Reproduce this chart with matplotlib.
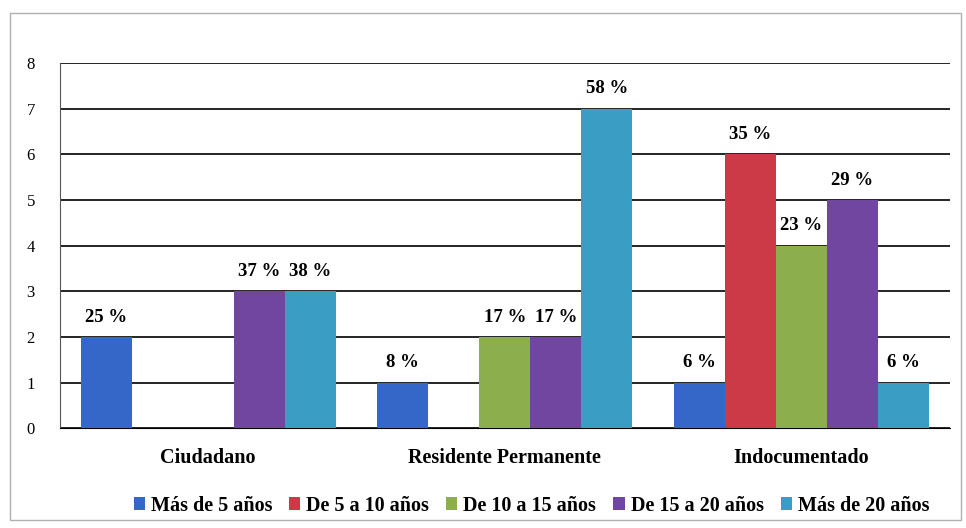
import matplotlib.pyplot as plt
import numpy as np
from matplotlib.patches import Rectangle

categories = ["Ciudadano", "Residente Permanente", "Indocumentado"]
series = ["Más de 5 años", "De 5 a 10 años", "De 10 a 15 años", "De 15 a 20 años", "Más de 20 años"]
mas_5 = [2, 1, 1]
de_5_10 = [0, 0, 6]
de_10_15 = [0, 2, 4]
de_15_20 = [3, 2, 5]
mas_20 = [3, 7, 1]
pct_mas_5 = ["25 %", "8 %", "6 %"]
pct_5_10 = ["", "", "35 %"]
pct_10_15 = ["", "17 %", "23 %"]
pct_15_20 = ["37 %", "17 %", "29 %"]
pct_mas_20 = ["38 %", "58 %", "6 %"]
colors = ["#3467c8", "#cc3a47", "#8cae4c", "#7146a0", "#3a9ec4"]

values = [mas_5, de_5_10, de_10_15, de_15_20, mas_20]
labels = [pct_mas_5, pct_5_10, pct_10_15, pct_15_20, pct_mas_20]

plt.rcParams["font.family"] = ["Liberation Serif", "DejaVu Serif"]

fig = plt.figure(figsize=(9.66, 5.28), dpi=100)
ax = fig.add_axes([0.062, 0.189, 0.921, 0.692])

# light frame around the whole chart
fig.patches.append(Rectangle((0.010, 0.015), 0.985, 0.960, transform=fig.transFigure,
                             fill=False, edgecolor="#b0b0b0", linewidth=1.0))

x = np.arange(len(categories))
width = 0.172
for i, (vals, lbls) in enumerate(zip(values, labels)):
    pos = x + (i - 2) * width
    ax.bar(pos, vals, width, color=colors[i], label=series[i], zorder=3)
    for p, v, t in zip(pos, vals, lbls):
        if t:
            ax.annotate(t, (p, v), xytext=(0, 8), textcoords="offset points",
                        ha="center", va="bottom", fontsize=13.5, fontweight="bold")

ax.set_ylim(0, 8)
ax.set_xlim(-0.5, 2.5)
ax.set_yticks(range(0, 9))
ax.yaxis.grid(True, color="black", linewidth=1.2, zorder=0)
ax.set_axisbelow(True)
ax.tick_params(axis="y", length=0, labelsize=12, pad=18)
ax.tick_params(axis="x", length=0, labelsize=14.5, pad=14)
ax.set_xticks(x)
ax.set_xticklabels(categories, fontweight="bold")
for s in ["top", "right"]:
    ax.spines[s].set_visible(False)
ax.spines["left"].set_color("#555555")
ax.spines["bottom"].set_color("black")

ax.legend(loc="upper center", bbox_to_anchor=(0.53, -0.135), ncol=5, frameon=False,
          prop={"weight": "bold", "size": 14.5}, handlelength=0.55, handleheight=0.55,
          handletextpad=0.3, columnspacing=0.85)

fig.savefig("out.png", dpi=100)
